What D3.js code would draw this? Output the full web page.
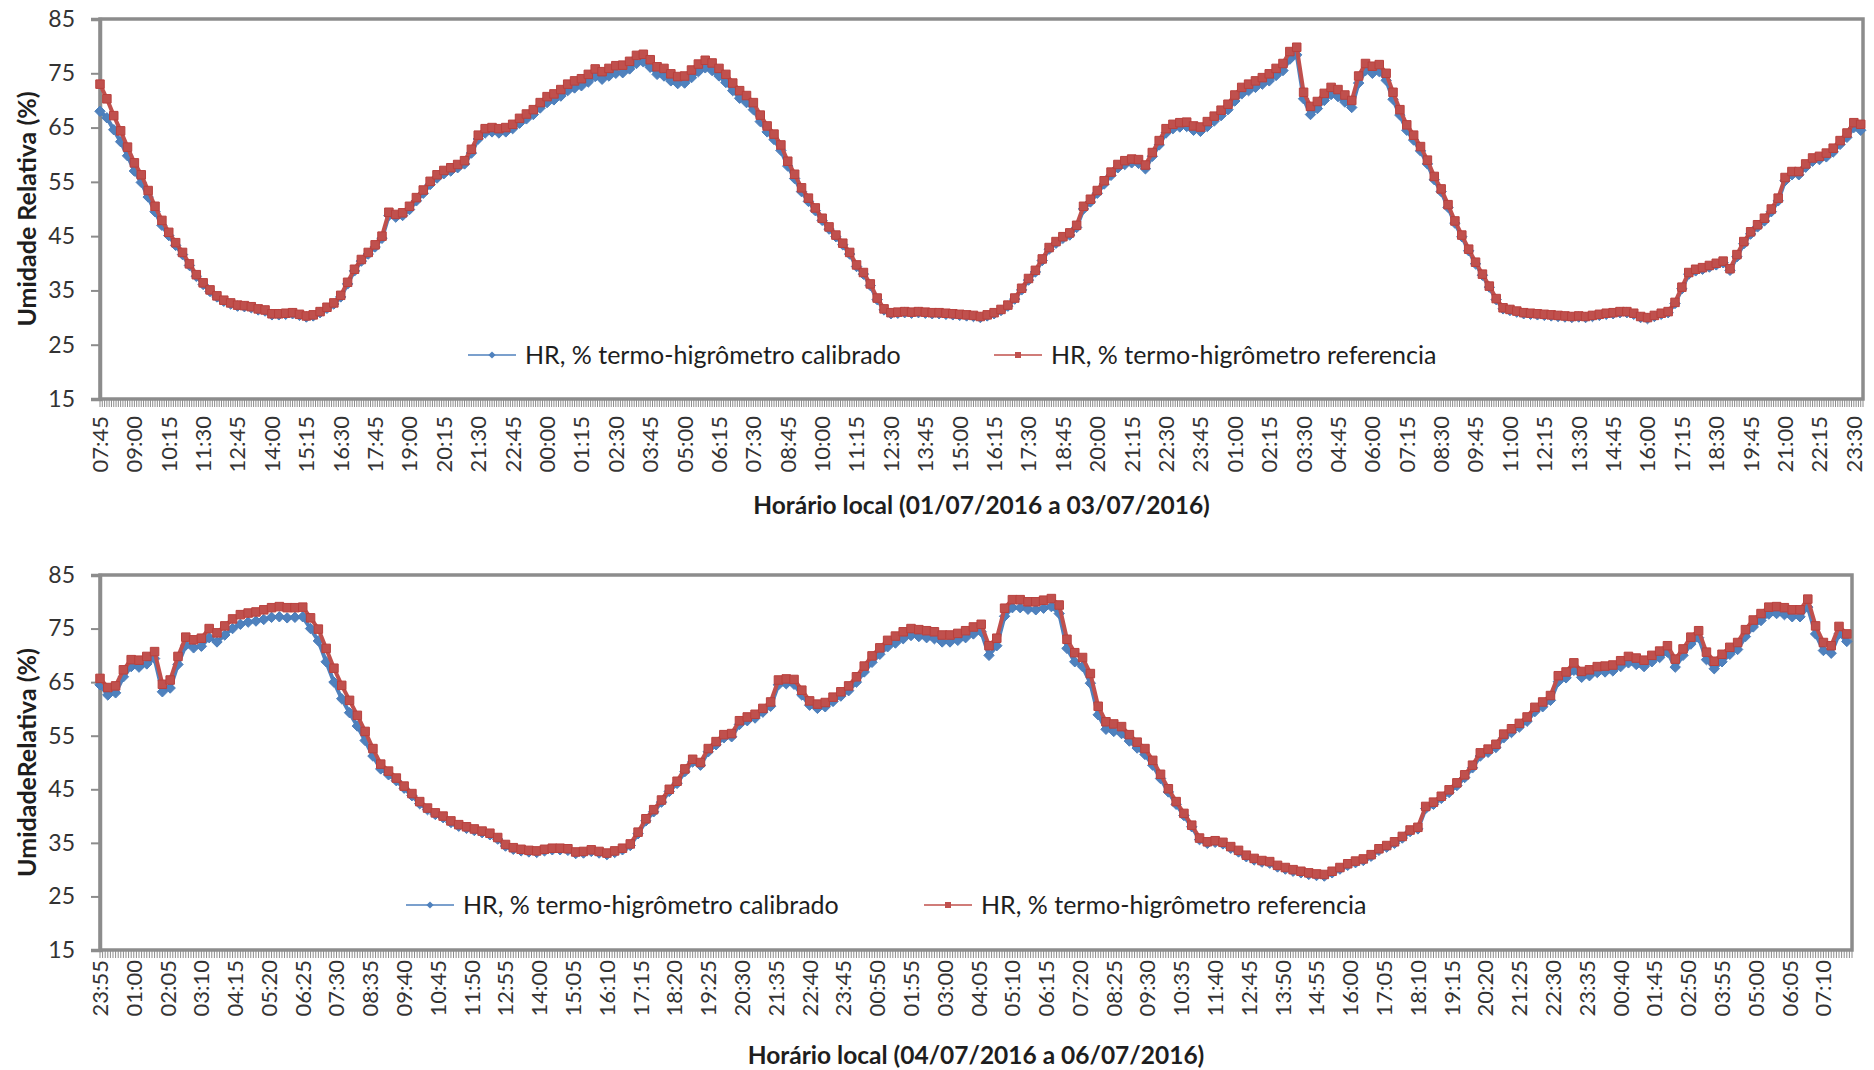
<!DOCTYPE html>
<html>
<head>
<meta charset="utf-8">
<script src="https://cdn.jsdelivr.net/npm/d3@7"></script>
<style>
  body { margin: 0; background: #ffffff; }
  text { font-family: Lato, "Open Sans", sans-serif; }
</style>
</head>
<body>
<svg id="chart" width="1874" height="1070"></svg>
<script>
// Relative humidity readings (%), one reading every 15 minutes on a 5-minute category axis.
const yTicks = [15, 25, 35, 45, 55, 65, 75, 85];

const seriesNames = ["HR, % termo-higrômetro calibrado", "HR, % termo-higrômetro referencia"];

// Panel 1: 01/07/2016 07:45 -> 03/07/2016 23:50
const topLabels = ["07:45","09:00","10:15","11:30","12:45","14:00","15:15","16:30","17:45","19:00","20:15","21:30","22:45","00:00","01:15","02:30","03:45","05:00","06:15","07:30","08:45","10:00","11:15","12:30","13:45","15:00","16:15","17:30","18:45","20:00","21:15","22:30","23:45","01:00","02:15","03:30","04:45","06:00","07:15","08:30","09:45","11:00","12:15","13:30","14:45","16:00","17:15","18:30","19:45","21:00","22:15","23:30"];

const topCalibrado = [
  68.0, 66.8, 64.6, 62.4,  59.8, 57.0, 54.9, 52.2,  49.5, 47.0, 45.1, 43.3,  41.6, 39.6, 37.6, 36.1,
  34.8, 33.8, 33.0, 32.5,  32.1, 32.0, 31.8, 31.4,  31.2, 30.5, 30.5, 30.6,  30.7, 30.4, 30.1, 30.3,
  30.9, 31.7, 32.5, 33.8,  36.2, 38.6, 40.4, 41.7,  43.0, 44.6, 48.8, 48.5,  48.8, 49.9, 51.5, 52.9,
  54.5, 55.7, 56.5, 57.0,  57.6, 58.3, 60.3, 62.9,  64.0, 64.2, 64.0, 64.2,  64.8, 65.8, 66.6, 67.4,
  68.6, 69.6, 70.1, 70.8,  71.8, 72.3, 72.7, 73.4,  74.4, 73.9, 74.5, 75.0,  75.1, 75.8, 76.8, 77.1,
  76.1, 74.8, 74.5, 73.6,  73.1, 73.2, 74.2, 75.3,  76.0, 75.5, 74.5, 73.3,  71.8, 70.4, 69.6, 68.3,
  66.1, 64.2, 62.8, 60.8,  57.9, 55.6, 53.2, 51.4,  49.7, 47.9, 46.3, 44.9,  43.4, 41.7, 39.4, 38.0,
  35.9, 33.3, 31.4, 30.7,  30.8, 30.9, 30.8, 30.9,  30.8, 30.7, 30.7, 30.6,  30.5, 30.4, 30.3, 30.2,
  30.0, 30.3, 30.7, 31.3,  32.1, 33.4, 35.1, 36.9,  38.4, 40.5, 42.6, 43.7,  44.6, 45.2, 46.6, 50.0,
  51.3, 52.9, 54.6, 56.2,  57.6, 58.2, 58.5, 58.4,  57.4, 59.7, 61.8, 64.0,  64.8, 65.1, 65.2, 64.5,
  64.3, 65.2, 66.2, 67.2,  68.3, 69.9, 71.2, 71.8,  72.4, 73.0, 73.6, 74.6,  75.5, 77.6, 78.4, 70.3,
  67.4, 68.5, 70.0, 71.1,  70.7, 69.7, 68.7, 73.2,  75.5, 75.0, 75.3, 73.7,  70.2, 67.3, 64.5, 62.7,
  60.7, 58.3, 55.4, 53.2,  50.3, 47.4, 44.9, 42.3,  39.9, 37.8, 35.6, 33.3,  31.6, 31.3, 31.0, 30.7,
  30.6, 30.5, 30.4, 30.3,  30.2, 30.1, 30.0, 30.1,  30.0, 30.2, 30.4, 30.6,  30.7, 30.9, 30.9, 30.6,
  30.0, 29.8, 30.2, 30.6,  30.9, 32.6, 35.3, 38.0,  38.6, 38.9, 39.3, 39.7,  40.1, 38.7, 41.2, 43.6,
  45.4, 46.7, 47.8, 49.5,  51.5, 55.2, 56.3, 56.3,  57.7, 58.8, 59.1, 59.6,  60.5, 61.9, 63.2, 65.0,
  64.5
];

const topReferencia = [
  73.0, 70.3, 67.2, 64.4,  61.4, 58.5, 56.3, 53.4,  50.5, 47.9, 45.7, 43.8,  42.0, 39.9, 37.9, 36.4,
  35.1, 34.0, 33.2, 32.7,  32.3, 32.2, 32.0, 31.6,  31.4, 30.7, 30.7, 30.8,  30.9, 30.6, 30.3, 30.5,
  31.1, 31.9, 32.7, 34.1,  36.5, 38.9, 40.7, 42.0,  43.4, 45.0, 49.4, 49.0,  49.3, 50.5, 52.1, 53.5,
  55.1, 56.3, 57.1, 57.6,  58.2, 58.9, 61.0, 63.6,  64.8, 65.0, 64.8, 65.0,  65.6, 66.7, 67.5, 68.3,
  69.6, 70.7, 71.2, 72.0,  73.0, 73.6, 74.0, 74.8,  75.8, 75.3, 75.9, 76.4,  76.5, 77.2, 78.3, 78.5,
  77.5, 76.2, 75.9, 74.9,  74.4, 74.5, 75.6, 76.7,  77.4, 76.9, 75.9, 74.8,  73.2, 71.8, 70.9, 69.6,
  67.3, 65.3, 63.8, 61.8,  58.8, 56.4, 53.9, 52.0,  50.2, 48.3, 46.7, 45.2,  43.7, 42.0, 39.7, 38.3,
  36.2, 33.6, 31.6, 30.9,  31.0, 31.1, 31.0, 31.1,  31.0, 30.9, 30.9, 30.8,  30.7, 30.6, 30.5, 30.4,
  30.2, 30.5, 30.9, 31.5,  32.3, 33.6, 35.4, 37.2,  38.7, 40.8, 42.9, 44.0,  44.9, 45.6, 47.0, 50.5,
  51.8, 53.4, 55.2, 56.8,  58.2, 58.9, 59.2, 59.1,  58.1, 60.4, 62.6, 64.8,  65.6, 65.9, 66.0, 65.3,
  65.1, 66.1, 67.1, 68.2,  69.3, 71.0, 72.4, 73.0,  73.6, 74.2, 74.9, 75.9,  76.8, 79.0, 79.8, 71.5,
  68.9, 69.8, 71.3, 72.4,  72.0, 71.0, 70.0, 74.5,  76.8, 76.3, 76.6, 75.0,  71.5, 68.3, 65.5, 63.6,
  61.5, 59.0, 56.0, 53.7,  50.8, 47.8, 45.2, 42.6,  40.2, 38.0, 35.8, 33.5,  31.8, 31.5, 31.2, 30.9,
  30.8, 30.7, 30.6, 30.5,  30.4, 30.3, 30.2, 30.3,  30.2, 30.4, 30.6, 30.8,  30.9, 31.1, 31.1, 30.8,
  30.2, 30.0, 30.4, 30.8,  31.1, 32.8, 35.6, 38.3,  38.9, 39.2, 39.6, 40.0,  40.4, 39.0, 41.6, 44.0,
  45.8, 47.1, 48.3, 50.0,  52.0, 55.8, 56.9, 56.9,  58.3, 59.4, 59.7, 60.3,  61.2, 62.6, 64.0, 65.9,
  65.6
];

// Panel 2: 03/07/2016 23:55 -> 06/07/2016 08:05
const bottomLabels = ["23:55","01:00","02:05","03:10","04:15","05:20","06:25","07:30","08:35","09:40","10:45","11:50","12:55","14:00","15:05","16:10","17:15","18:20","19:25","20:30","21:35","22:40","23:45","00:50","01:55","03:00","04:05","05:10","06:15","07:20","08:25","09:30","10:35","11:40","12:45","13:50","14:55","16:00","17:05","18:10","19:15","20:20","21:25","22:30","23:35","00:40","01:45","02:50","03:55","05:00","06:05","07:10"];

const bottomCalibrado = [
  64.5, 62.6, 63.0, 66.0,  67.9, 67.8, 68.4, 69.4,  63.2, 63.9, 68.3, 71.9,  71.4, 71.7, 73.3, 72.5,
  73.8, 75.0, 75.8, 76.2,  76.4, 76.7, 77.1, 77.2,  77.0, 77.1, 77.2, 75.0,  72.7, 68.8, 65.0, 61.9,
  59.3, 56.8, 54.1, 51.2,  48.8, 47.7, 46.6, 45.2,  43.8, 42.3, 41.2, 40.3,  39.7, 38.8, 38.1, 37.7,
  37.3, 36.9, 36.5, 35.7,  34.4, 33.8, 33.5, 33.3,  33.2, 33.5, 33.7, 33.7,  33.6, 33.0, 33.1, 33.4,
  33.1, 32.8, 33.2, 33.7,  34.5, 36.7, 39.1, 40.8,  42.6, 44.6, 46.1, 48.3,  50.1, 49.5, 52.0, 53.3,
  54.6, 54.8, 57.1, 57.8,  58.3, 59.4, 60.5, 64.5,  64.7, 64.6, 62.6, 60.7,  60.1, 60.4, 61.4, 62.4,
  63.4, 65.0, 66.9, 68.7,  70.2, 71.6, 72.3, 73.1,  73.7, 73.5, 73.3, 73.1,  72.5, 72.5, 72.8, 73.3,
  74.0, 74.4, 70.0, 71.8,  77.3, 78.9, 78.9, 78.6,  78.5, 78.8, 79.1, 77.8,  71.3, 68.8, 67.9, 64.8,
  58.9, 56.2, 55.8, 55.4,  54.0, 52.7, 51.5, 49.5,  47.0, 44.5, 42.2, 40.1,  38.0, 35.6, 34.9, 35.1,
  34.8, 34.0, 33.3, 32.4,  31.8, 31.4, 31.2, 30.5,  30.1, 29.7, 29.4, 29.1,  28.9, 28.8, 29.4, 30.1,
  30.8, 31.3, 31.7, 32.5,  33.6, 34.2, 34.9, 35.9,  37.1, 37.6, 41.4, 42.2,  43.3, 44.4, 45.7, 47.2,
  49.0, 51.2, 51.9, 52.8,  54.6, 55.6, 56.6, 57.7,  59.5, 60.4, 61.6, 65.1,  65.8, 67.2, 65.9, 66.2,
  66.8, 66.9, 67.1, 67.9,  68.6, 68.3, 67.9, 68.8,  69.6, 70.6, 67.8, 70.0,  72.1, 73.3, 69.2, 67.5,
  68.8, 70.2, 71.1, 73.5,  75.3, 76.5, 77.7, 77.8,  77.6, 77.2, 77.2, 79.0,  74.0, 70.9, 70.4, 74.0,
  72.6
];

const bottomReferencia = [
  65.7, 64.0, 64.3, 67.3,  69.2, 69.1, 69.8, 70.7,  64.6, 65.4, 69.8, 73.4,  72.9, 73.2, 75.0, 74.2,
  75.5, 76.8, 77.6, 77.9,  78.1, 78.5, 78.9, 79.1,  78.9, 78.9, 79.0, 77.0,  74.9, 71.3, 67.6, 64.4,
  61.6, 58.8, 55.8, 52.6,  49.7, 48.4, 47.1, 45.6,  44.2, 42.7, 41.5, 40.6,  40.0, 39.1, 38.4, 38.0,
  37.6, 37.2, 36.8, 36.0,  34.7, 34.1, 33.8, 33.6,  33.5, 33.8, 34.0, 34.0,  33.9, 33.3, 33.4, 33.7,
  33.4, 33.1, 33.5, 34.0,  34.8, 37.0, 39.5, 41.2,  43.0, 45.0, 46.5, 48.8,  50.6, 50.0, 52.6, 53.9,
  55.2, 55.4, 57.8, 58.5,  59.0, 60.1, 61.3, 65.4,  65.6, 65.5, 63.5, 61.5,  60.9, 61.2, 62.2, 63.2,
  64.3, 66.0, 68.0, 69.9,  71.4, 72.8, 73.6, 74.4,  75.0, 74.8, 74.6, 74.4,  73.8, 73.8, 74.1, 74.6,
  75.3, 75.8, 71.8, 73.2,  78.8, 80.4, 80.4, 80.0,  80.0, 80.3, 80.6, 79.4,  73.0, 70.5, 69.6, 66.6,
  60.5, 57.6, 57.2, 56.7,  55.2, 53.8, 52.6, 50.4,  47.8, 45.1, 42.7, 40.5,  38.3, 35.9, 35.2, 35.4,
  35.1, 34.3, 33.6, 32.7,  32.1, 31.7, 31.5, 30.8,  30.4, 30.0, 29.7, 29.4,  29.2, 29.1, 29.7, 30.4,
  31.1, 31.6, 32.0, 32.8,  33.9, 34.5, 35.2, 36.2,  37.4, 37.9, 41.8, 42.6,  43.7, 44.9, 46.2, 47.7,
  49.5, 51.8, 52.5, 53.4,  55.3, 56.3, 57.3, 58.5,  60.3, 61.3, 62.5, 66.2,  66.9, 68.6, 67.0, 67.3,
  67.9, 68.0, 68.2, 69.0,  69.8, 69.5, 69.1, 70.0,  70.8, 71.8, 69.3, 71.2,  73.4, 74.6, 70.6, 68.9,
  70.2, 71.5, 72.4, 74.8,  76.6, 77.8, 79.0, 79.1,  78.9, 78.5, 78.5, 80.5,  75.5, 72.4, 71.8, 75.4,
  74.0
];

const topCategoryCount = 770;     // 5-minute categories in panel 1
const bottomCategoryCount = 675;  // 5-minute categories in panel 2
const readingStep = 3;            // one reading per 3 categories (15 min)

const colors = {
  calibrado: "#4F81BD", calibradoEdge: "#4A7EBB",
  referencia: "#C0504D", referenciaEdge: "#B9403D",
  frame: "#8C8C8C", tickText: "#333333", title: "#1e1e1e"
};

const svg = d3.select("#chart");

const diamondPath = r => `M0,${-r}L${r},0L0,${r}L${-r},0Z`;
const squarePath = s => `M${-s/2},${-s/2}h${s}v${s}h${-s}Z`;

function drawPanel(p) {
  const g = svg.append("g");
  const x = d3.scaleLinear().domain([0, p.categoryCount - 1]).range([p.left, p.right]);
  const y = d3.scaleLinear().domain([15, 85]).range([p.bottom, p.top]);

  // plot frame
  g.append("rect")
    .attr("x", p.left).attr("y", p.top)
    .attr("width", p.right - p.left).attr("height", p.bottom - p.top)
    .attr("fill", "none").attr("stroke", colors.frame).attr("stroke-width", 3.5);

  // y axis
  const yAxis = d3.axisLeft(y).tickValues(yTicks).tickSize(9).tickPadding(16);
  const ya = g.append("g").attr("transform", `translate(${p.left},0)`).call(yAxis);
  ya.select(".domain").attr("stroke", colors.frame).attr("stroke-width", 3.5);
  ya.selectAll(".tick line").attr("stroke", colors.frame).attr("stroke-width", 2);
  ya.selectAll(".tick text")
    .attr("fill", colors.tickText).style("font-size", "23px").style("font-family", "Lato, sans-serif");

  // category tick comb (one tick per 5-minute category)
  const cats = d3.range(p.categoryCount);
  g.append("g").selectAll("line").data(cats).join("line")
    .attr("x1", d => x(d)).attr("x2", d => x(d))
    .attr("y1", p.bottom).attr("y2", p.bottom + 8)
    .attr("stroke", colors.frame).attr("stroke-width", 1);

  // category labels
  g.append("g").selectAll("text").data(p.labels).join("text")
    .attr("transform", (d, i) => `translate(${x(i * p.labelEvery)},${p.labelTop}) rotate(-90)`)
    .attr("text-anchor", "end").attr("dy", "0.36em")
    .attr("fill", colors.tickText).style("font-size", "22px")
    .text(d => d);

  // axis titles
  g.append("text")
    .attr("transform", `translate(${p.yTitleX},${(p.top + p.bottom) / 2}) rotate(-90)`)
    .attr("text-anchor", "middle").attr("dy", "0.36em")
    .attr("fill", colors.title).style("font-size", "25px").style("font-weight", "bold")
    .text(p.yTitle);
  g.append("text")
    .attr("x", (p.left + p.right) / 2).attr("y", p.xTitleY)
    .attr("text-anchor", "middle").attr("dy", "0.36em")
    .attr("fill", colors.title).style("font-size", "24.5px").style("font-weight", "bold")
    .text(p.xTitle);

  const series = [
    { values: p.calibrado, color: colors.calibrado, edge: colors.calibradoEdge, shape: diamondPath(5.2) },
    { values: p.referencia, color: colors.referencia, edge: colors.referenciaEdge, shape: squarePath(8.5) }
  ];

  const line = d3.line().x((d, i) => x(i * readingStep)).y(d => y(d));

  series.forEach(s => {
    const sg = g.append("g");
    sg.append("path").datum(s.values).attr("d", line)
      .attr("fill", "none").attr("stroke", s.color).attr("stroke-width", 4)
      .attr("stroke-linejoin", "round");
    sg.selectAll("path.m").data(s.values).join("path").attr("class", "m")
      .attr("transform", (d, i) => `translate(${x(i * readingStep)},${y(d)})`)
      .attr("d", s.shape)
      .attr("fill", s.color).attr("stroke", s.edge).attr("stroke-width", 1);
  });

  // legend
  const legendShapes = [diamondPath(3.6), squarePath(6)];
  const legendColors = [colors.calibrado, colors.referencia];
  p.legendX.forEach((lx, i) => {
    const lg = g.append("g").attr("transform", `translate(${lx},${p.legendY})`);
    lg.append("line").attr("x1", 0).attr("x2", p.legendLine).attr("y1", 0).attr("y2", 0)
      .attr("stroke", legendColors[i]).attr("stroke-width", 1.5);
    lg.append("path").attr("transform", `translate(${p.legendLine / 2},0)`)
      .attr("d", legendShapes[i]).attr("fill", legendColors[i]);
    lg.append("text").attr("x", p.legendLine + 9).attr("dy", "0.36em")
      .attr("fill", colors.title).style("font-size", "25px")
      .text(seriesNames[i]);
  });
}

drawPanel({
  left: 100, right: 1863, top: 19, bottom: 399,
  categoryCount: topCategoryCount, labels: topLabels, labelEvery: 15, labelTop: 416,
  calibrado: topCalibrado, referencia: topReferencia,
  yTitle: "Umidade Relativa (%)", yTitleX: 27,
  xTitle: "Horário local (01/07/2016 a 03/07/2016)", xTitleY: 505,
  legendX: [468, 994], legendY: 355, legendLine: 48
});

drawPanel({
  left: 100, right: 1852, top: 575, bottom: 950,
  categoryCount: bottomCategoryCount, labels: bottomLabels, labelEvery: 13, labelTop: 960,
  calibrado: bottomCalibrado, referencia: bottomReferencia,
  yTitle: "UmidadeRelativa (%)", yTitleX: 27,
  xTitle: "Horário local (04/07/2016 a 06/07/2016)", xTitleY: 1055,
  legendX: [406, 924], legendY: 905, legendLine: 48
});
</script>
</body>
</html>
